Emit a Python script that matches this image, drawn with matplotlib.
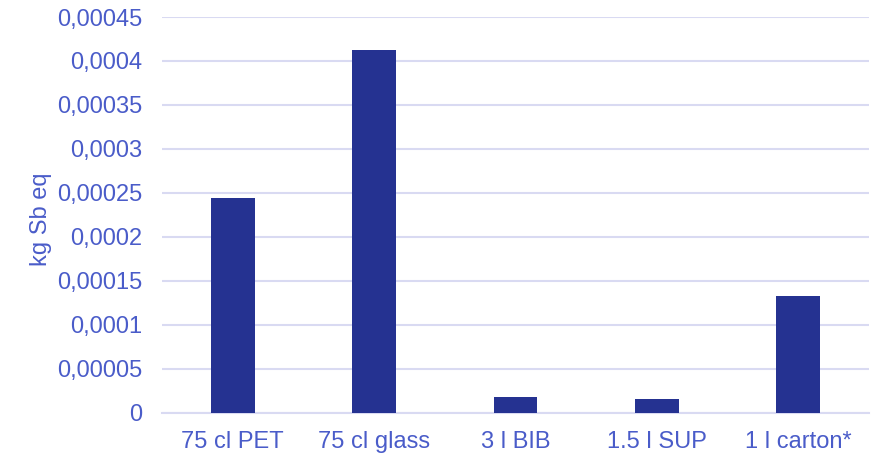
import matplotlib
matplotlib.use("Agg")
import matplotlib.pyplot as plt
from matplotlib.ticker import FuncFormatter, MultipleLocator

# Abiotic depletion per packaging format
packages = ["75 cl PET", "75 cl glass", "3 l BIB", "1.5 l SUP", "1 l carton*"]
sb_eq = [0.000244, 0.000413, 0.0000182, 0.0000160, 0.000133]

bar_color = "#253291"
text_color = "#4a5cc9"
grid_color = "#d9daf2"

plt.rcParams["font.family"] = ["Liberation Sans", "DejaVu Sans"]

fig = plt.figure(figsize=(8.76, 4.57), dpi=100)
ax = fig.add_axes([0.185, 0.0963, 0.807, 0.8665])

x = range(len(packages))
ax.bar(x, sb_eq, width=0.31, color=bar_color, zorder=3)

ax.set_xlim(-0.5, len(packages) - 0.5)
ax.set_ylim(0, 0.00045)
ax.yaxis.set_major_locator(MultipleLocator(0.00005))


def comma_fmt(v, pos):
    if abs(v) < 1e-12:
        return "0"
    s = f"{v:.5f}".rstrip("0")
    return s.replace(".", ",")


ax.yaxis.set_major_formatter(FuncFormatter(comma_fmt))
ax.set_xticks(list(x))
ax.set_xticklabels(packages)

ax.grid(axis="y", color=grid_color, linewidth=1.5, zorder=0)
for side in ["top", "right", "left"]:
    ax.spines[side].set_visible(False)
ax.spines["bottom"].set_color(grid_color)
ax.spines["bottom"].set_linewidth(1.5)

ax.tick_params(axis="both", length=0, labelsize=17, labelcolor=text_color)
ax.tick_params(axis="y", pad=14)
ax.tick_params(axis="x", pad=13)
ax.set_ylabel("kg Sb eq", fontsize=17, color=text_color, labelpad=6)
ax.yaxis.set_label_coords(-0.155, 0.49)

fig.savefig("out.png", dpi=100)
